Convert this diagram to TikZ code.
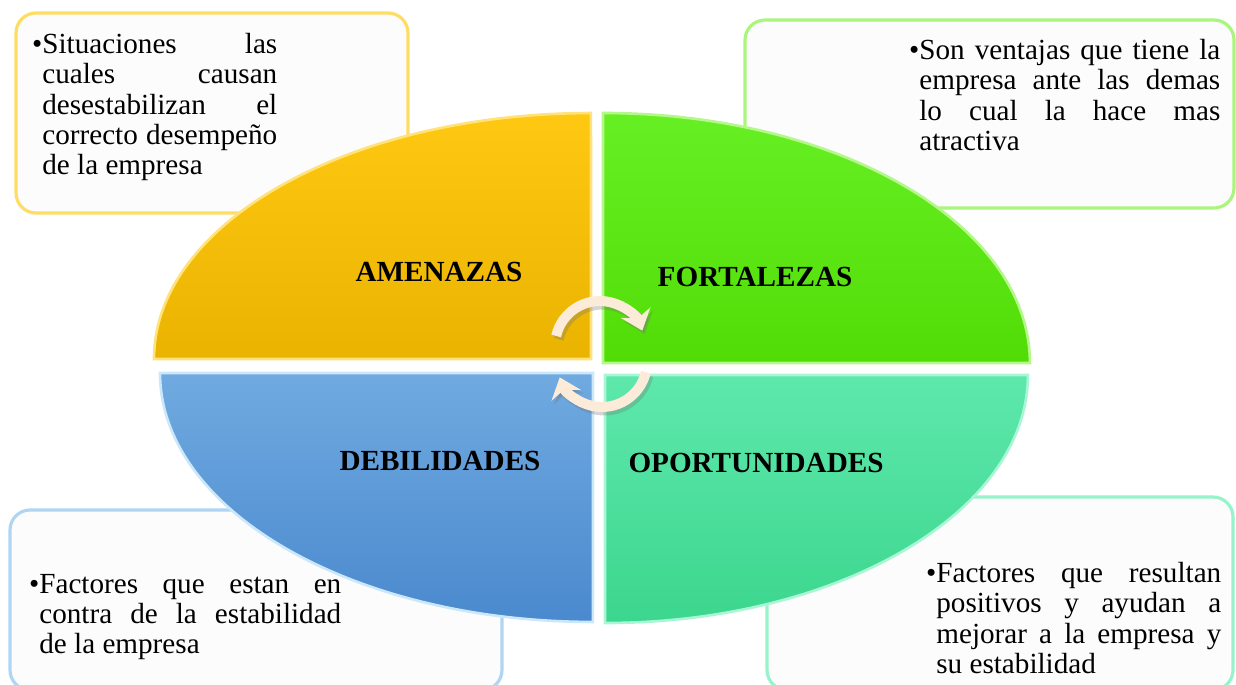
\documentclass[tikz,border=0pt]{standalone}
\usepackage{fontspec}
\setmainfont{Liberation Serif}
\usepackage{xcolor}
\usetikzlibrary{arrows.meta}

\definecolor{amarillo}{HTML}{FFC812}
\definecolor{amarilloB}{HTML}{E9B300}
\definecolor{amarilloR}{HTML}{FFE27A}
\definecolor{verde}{HTML}{66F024}
\definecolor{verdeB}{HTML}{52DC06}
\definecolor{verdeR}{HTML}{B6F78C}
\definecolor{azul}{HTML}{70AAE0}
\definecolor{azulB}{HTML}{4A89CE}
\definecolor{azulR}{HTML}{CBE8FA}
\definecolor{turq}{HTML}{5EE8AC}
\definecolor{turqB}{HTML}{3CD68E}
\definecolor{turqR}{HTML}{A9F6D6}
\definecolor{crema}{HTML}{FDEBDA}

\begin{document}
\begin{tikzpicture}[
  x=0.02cm, y=0.02cm,
  font=\fontsize{16.6}{17.2}\selectfont,
  caja/.style={line width=1.8pt, rounded corners=0.4cm, fill=white!99!black},
  texto/.style={anchor=north west, inner sep=0pt, align=justify},
  cuadro/.style={line width=1.5pt},
  titulo/.style={inner sep=0pt, font=\fontsize{16.6}{17.2}\selectfont\bfseries},
  flecha/.style={line width=0.2cm, draw=crema, -{Stealth[length=0.38cm, width=0.62cm, inset=0.12cm]}},
  sombra/.style={flecha, draw=black!55, opacity=0.3},
]
  \useasboundingbox (0,0) rectangle (1236,684);

  \draw[caja, draw=amarilloR!80!amarillo] (16,471) rectangle (408,671);
  \draw[caja, draw=verdeR!85!verde] (745,476) rectangle (1234,664);
  \draw[caja, draw=azulR!70!azul] (10,-6) rectangle (502,174);
  \draw[caja, draw=turqR!75!turq] (767,-6) rectangle (1233,187);

  \node[texto, text width=4.7cm] (tamenazas) at (42,651)
    {\llap{\textbullet}Situaciones las\linebreak cuales causan\linebreak desestabilizan el\linebreak correcto desempeño\linebreak de la empresa};
  \node[texto, text width=6.02cm] (tfortalezas) at (919,645)
    {\llap{\textbullet}Son ventajas que tiene la\linebreak empresa ante las demas\linebreak lo cual la hace mas\linebreak atractiva};
  \node[texto, text width=6.04cm] (tdebilidades) at (39,110)
    {\llap{\textbullet}Factores que estan en\linebreak contra de la estabilidad\linebreak de la empresa};
  \node[texto, text width=5.7cm] (toportunidades) at (936,122)
    {\llap{\textbullet}Factores que resultan\linebreak positivos y ayudan a\linebreak mejorar a la empresa y\linebreak su estabilidad};

  \draw[cuadro, draw=amarilloR, top color=amarillo, bottom color=amarilloB]
    (591,325) -- ++(-437,0) arc[start angle=180, end angle=90, x radius=8.74cm, y radius=4.92cm] -- cycle;
  \draw[cuadro, draw=verdeR, top color=verde, bottom color=verdeB]
    (603,321) -- ++(0,250) arc[start angle=90, end angle=0, x radius=8.54cm, y radius=5cm] -- cycle;
  \draw[cuadro, draw=azulR, top color=azul, bottom color=azulB]
    (593,311) -- ++(-433,0) arc[start angle=180, end angle=270, x radius=8.66cm, y radius=4.98cm] -- cycle;
  \draw[cuadro, draw=turqR, top color=turq, bottom color=turqB]
    (605,309) -- ++(0,-248) arc[start angle=270, end angle=360, x radius=8.46cm, y radius=4.96cm] -- cycle;

  \node[titulo] (amenazas) at (439,412) {AMENAZAS};
  \node[titulo] (fortalezas) at (755,407) {FORTALEZAS};
  \node[titulo] (debilidades) at (440,223) {DEBILIDADES};
  \node[titulo] (oportunidades) at (756,221) {OPORTUNIDADES};

  \coordinate (giroA) at (600,338);
  \coordinate (giroB) at (602,322);
  \draw[sombra] ([shift={(167:0.9cm)}, xshift=0.05cm, yshift=-0.07cm]giroA) arc[start angle=167, end angle=20, radius=0.9cm];
  \draw[sombra] ([shift={(-13:0.9cm)}, xshift=0.05cm, yshift=-0.07cm]giroB) arc[start angle=-13, end angle=-160, radius=0.9cm];
  \draw[flecha] ([shift={(167:0.9cm)}]giroA) arc[start angle=167, end angle=20, radius=0.9cm];
  \draw[flecha] ([shift={(-13:0.9cm)}]giroB) arc[start angle=-13, end angle=-160, radius=0.9cm];
\end{tikzpicture}
\end{document}
